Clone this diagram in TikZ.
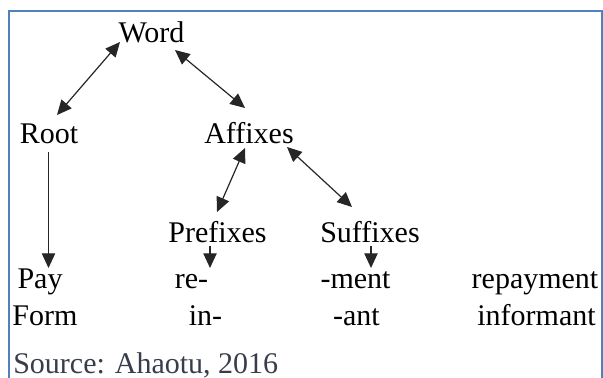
\documentclass[tikz,border=0pt]{standalone}
\usepackage{fontspec}
\setmainfont{Liberation Serif}
\usetikzlibrary{arrows.meta}
\definecolor{frameblue}{RGB}{79,129,189}
\definecolor{srcgray}{RGB}{55,62,74}
\begin{document}
\begin{tikzpicture}[x=0.75pt,y=-0.75pt,
  lbl/.style={anchor=base,inner sep=0pt,font=\fontsize{22.5}{26}\selectfont},
  conn/.style={line width=0.9pt,draw=black!85,{Triangle[length=11pt,width=10pt]}-{Triangle[length=11pt,width=10pt]}},
  oneway/.style={line width=0.9pt,draw=black!85,-{Triangle[length=11pt,width=10pt]}}]
\useasboundingbox (0,0) rectangle (603,378);
\draw[frameblue,line width=1.5pt] (8.5,390) -- (8.5,11) -- (601.5,11) -- (601.5,390);
% nodes
\node[lbl] (word) at (151.5,43) {Word};
\node[lbl] (root) at (49,143) {Root};
\node[lbl] (affixes) at (249,143) {Affixes};
\node[lbl] (prefixes) at (217.5,242) {Prefixes};
\node[lbl] (suffixes) at (370,242) {Suffixes};
\node[lbl] (pay) at (40,288) {Pay};
\node[lbl] (form) at (45,325) {Form};
\node[lbl] (re) at (191.5,288) {re-};
\node[lbl] (in) at (205.5,325) {in-};
\node[lbl] (ment) at (355.5,288) {-ment};
\node[lbl] (ant) at (356.5,325) {-ant};
\node[lbl] (repayment) at (535,288) {repayment};
\node[lbl] (informant) at (536.5,325) {informant};
\node[lbl,anchor=base west,text=srcgray] (source) at (13,373) {Source: Ahaotu, 2016};
% connector endpoints
\coordinate (w1) at (120,42);
\coordinate (r1) at (57,115);
\coordinate (w2) at (175,50);
\coordinate (a1) at (245,108);
\coordinate (a2) at (245,148);
\coordinate (p1) at (217,212);
\coordinate (a3) at (287,147);
\coordinate (s1) at (352,207);
\coordinate (rt) at (48.5,152);
\coordinate (pb) at (48.5,268);
\coordinate (pt) at (210,246);
\coordinate (reb) at (210,268);
\coordinate (st) at (371,246);
\coordinate (mb) at (371,268);
\draw[conn] (w1) -- (r1);
\draw[conn] (w2) -- (a1);
\draw[conn] (a2) -- (p1);
\draw[conn] (a3) -- (s1);
\draw[oneway] (rt) -- (pb);
\draw[oneway] (pt) -- (reb);
\draw[oneway] (st) -- (mb);
\end{tikzpicture}
\end{document}
